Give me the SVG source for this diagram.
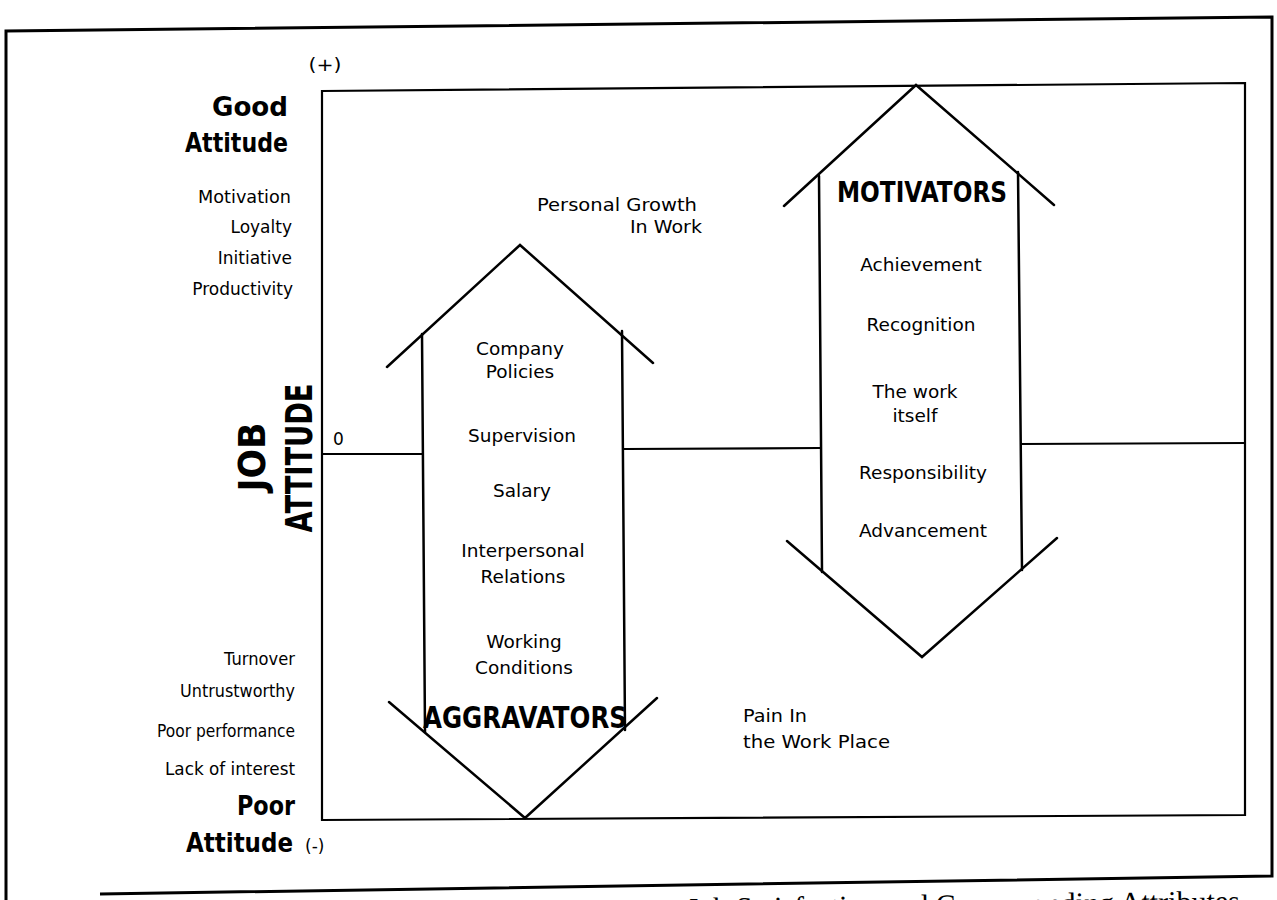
<svg xmlns="http://www.w3.org/2000/svg" width="1277" height="900" viewBox="0 0 1277 900">
<style>
  .ln{fill:none;stroke:#000;stroke-width:2.5;stroke-linejoin:miter;stroke-linecap:round}
  .frame{fill:none;stroke:#000;stroke-width:3}
  .box{fill:none;stroke:#000;stroke-width:2.2}
  .t{font-family:"DejaVu Sans",sans-serif;font-size:17px;fill:#000}
  .c{font-family:"DejaVu Sans",sans-serif;font-size:18.5px;fill:#000;text-anchor:middle}
  .b{font-family:"DejaVu Sans",sans-serif;font-weight:bold;fill:#000}
  .end{text-anchor:end}
  .cap{font-family:"Liberation Serif",serif;font-size:30px;fill:#000}
</style>
<rect width="1277" height="900" fill="#fff"/>
<g id="frame">
  <path class="frame" d="M6,900 L6,31 L1272,17 L1272,876 L100,894"/>
  <text class="cap" x="1240" y="911" text-anchor="end" transform="rotate(-0.8 1240 911)">Job Satisfaction and Corresponding Attributes</text>
</g>
<g id="axis-box">
  <path class="box" d="M322,91 L1245,83 L1245,815 L322,820 Z"/>
  <text class="t" x="325" y="71" text-anchor="middle" font-size="24" textLength="33" lengthAdjust="spacingAndGlyphs">(+)</text>
  <text class="t" x="333" y="445" font-size="18">0</text>
  <text class="t" x="305" y="852" font-size="15">(-)</text>
</g>
<g id="connectors">
  <line class="box" x1="322" y1="454" x2="422" y2="454"/>
  <line class="box" x1="624" y1="449" x2="820" y2="448"/>
  <line class="box" x1="1020" y1="444" x2="1245" y2="443"/>
</g>
<g id="good-attitude">
  <text class="b end" x="288" y="116" font-size="26" textLength="76" lengthAdjust="spacingAndGlyphs">Good</text>
  <text class="b" x="185" y="152" font-size="26" textLength="103" lengthAdjust="spacingAndGlyphs">Attitude</text>
  <text class="t" x="198" y="203" textLength="93" lengthAdjust="spacingAndGlyphs">Motivation</text>
  <text class="t end" x="292" y="233">Loyalty</text>
  <text class="t end" x="292" y="264">Initiative</text>
  <text class="t end" x="293" y="295">Productivity</text>
</g>
<g id="job-attitude">
  <text class="b" font-size="37" text-anchor="middle" transform="translate(265,457) rotate(-90)" textLength="69" lengthAdjust="spacingAndGlyphs">JOB</text>
  <text class="b" font-size="37" text-anchor="middle" transform="translate(312,458) rotate(-90)" textLength="149" lengthAdjust="spacingAndGlyphs">ATTITUDE</text>
</g>
<g id="poor-attitude">
  <text class="t" x="224" y="665" textLength="71" lengthAdjust="spacingAndGlyphs">Turnover</text>
  <text class="t" x="180" y="697" textLength="115" lengthAdjust="spacingAndGlyphs">Untrustworthy</text>
  <text class="t" x="157" y="737" textLength="138" lengthAdjust="spacingAndGlyphs">Poor performance</text>
  <text class="t" x="165" y="775" textLength="130" lengthAdjust="spacingAndGlyphs">Lack of interest</text>
  <text class="b" x="237" y="815" font-size="26" textLength="58" lengthAdjust="spacingAndGlyphs">Poor</text>
  <text class="b" x="186" y="852" font-size="26" textLength="107" lengthAdjust="spacingAndGlyphs">Attitude</text>
</g>
<g id="aggravators">
  <path class="ln" d="M387,367 L520,245 L653,363"/>
  <path class="ln" d="M422,334 L425,732"/>
  <path class="ln" d="M622,331 L625,730"/>
  <path class="ln" d="M389,702 L525,818 L657,698"/>
  <text class="c" x="520" y="355">Company</text>
  <text class="c" x="520" y="378">Policies</text>
  <text class="c" x="522" y="442">Supervision</text>
  <text class="c" x="522" y="497">Salary</text>
  <text class="c" x="523" y="557">Interpersonal</text>
  <text class="c" x="523" y="583">Relations</text>
  <text class="c" x="524" y="648">Working</text>
  <text class="c" x="524" y="674">Conditions</text>
  <text class="b" x="423" y="728" font-size="30" textLength="204" lengthAdjust="spacingAndGlyphs">AGGRAVATORS</text>
</g>
<g id="motivators">
  <path class="ln" d="M784,206 L916,85 L1054,205"/>
  <path class="ln" d="M819,176 L822,572"/>
  <path class="ln" d="M1018,172 L1022,570"/>
  <path class="ln" d="M787,541 L922,657 L1057,538"/>
  <text class="b" x="837" y="202" font-size="28" textLength="170" lengthAdjust="spacingAndGlyphs">MOTIVATORS</text>
  <text class="c" x="921" y="271">Achievement</text>
  <text class="c" x="921" y="331">Recognition</text>
  <text class="c" x="915" y="398">The work</text>
  <text class="c" x="915" y="422">itself</text>
  <text class="c" x="923" y="479">Responsibility</text>
  <text class="c" x="923" y="537">Advancement</text>
</g>
<g id="personal-growth">
  <text class="t" x="537" y="211" font-size="19.5" textLength="160" lengthAdjust="spacingAndGlyphs">Personal Growth</text>
  <text class="t" x="630" y="233" font-size="19.5" textLength="72" lengthAdjust="spacingAndGlyphs">In Work</text>
</g>
<g id="pain">
  <text class="t" x="743" y="722" font-size="19.5" textLength="64" lengthAdjust="spacingAndGlyphs">Pain In</text>
  <text class="t" x="743" y="748" font-size="19.5" textLength="147" lengthAdjust="spacingAndGlyphs">the Work Place</text>
</g>
</svg>
